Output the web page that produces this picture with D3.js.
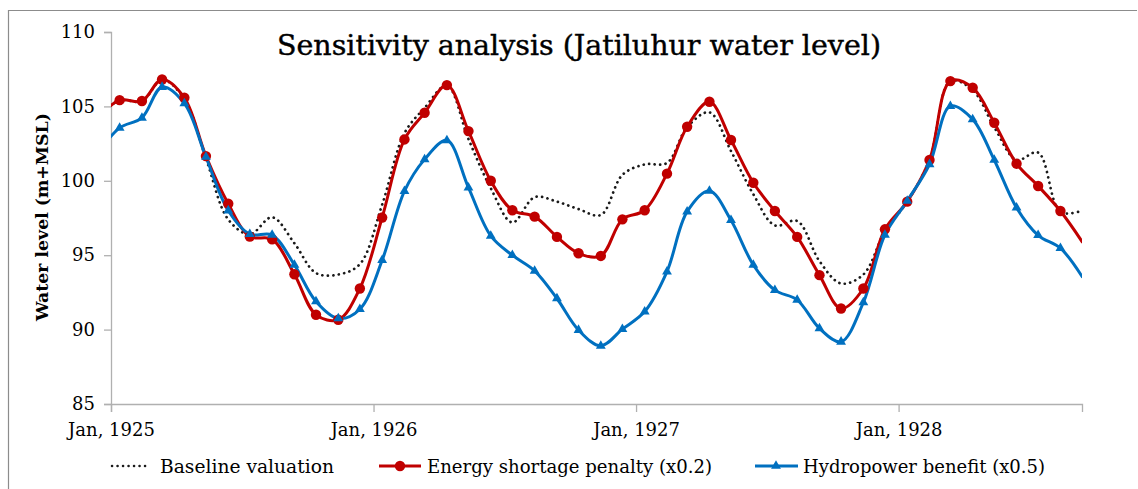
<!DOCTYPE html>
<html>
<head>
<meta charset="utf-8">
<script src="https://cdn.jsdelivr.net/npm/d3@7"></script>
<style>
  body { margin: 0; background: #fff; }
  text { font-family: "DejaVu Serif", "Liberation Serif", serif; fill: #000; }
</style>
</head>
<body>
<div id="chart"></div>
<script>
"use strict";

// monthly points, Dec 1924 .. Sep 1928 (first and last are cut by the plot edges)
var firstMonth = "1924-12";

var baseline = [104.3, 105.4, 105.35, 106.8, 105.5, 101.5, 97.4, 96.4, 97.55, 95.8, 93.8, 93.7, 94.4,
  98.4, 103.2, 104.9, 106.4, 102.8, 99.5, 97.2, 98.9, 98.6, 98.1, 97.7, 100.4,
  101.1, 101.2, 103.6, 104.6, 102.0, 99.1, 97.0, 97.3, 94.6, 93.1, 93.7, 96.6,
  98.6, 101.4, 106.7, 106.1, 103.6, 101.4, 101.9, 97.9, 98.0];

var energyPenalty = [104.2, 105.42, 105.36, 106.81, 105.58, 101.66, 98.46, 96.25, 96.07, 93.72, 91.0, 90.66, 92.76,
  97.53, 102.78, 104.57, 106.43, 103.34, 100.0, 98.02, 97.59, 96.23, 95.13, 94.95, 97.41,
  98.02, 100.48, 103.63, 105.31, 102.74, 99.87, 97.97, 96.23, 93.66, 91.42, 92.76, 96.74,
  98.6, 101.4, 106.7, 106.25, 103.9, 101.15, 99.65, 97.97, 95.85];

var hydroBenefit = [101.8, 103.56, 104.23, 106.3, 105.2, 101.6, 98.0, 96.41, 96.36, 94.35, 91.89, 90.75, 91.37,
  94.66, 99.31, 101.44, 102.72, 99.54, 96.3, 95.0, 93.95, 92.09, 89.97, 88.91, 90.03,
  91.21, 93.9, 97.93, 99.32, 97.35, 94.35, 92.65, 92.0, 90.08, 89.18, 91.82, 96.36,
  98.65, 101.11, 105.02, 104.13, 101.4, 98.19, 96.34, 95.47, 93.5];

var yTicks = [85, 90, 95, 100, 105, 110];
var xTickYears = [1925, 1926, 1927, 1928];
var legendLabels = ["Baseline valuation", "Energy shortage penalty (x0.2)", "Hydropower benefit (x0.5)"];

var width = 1138, height = 489;
var margin = {left: 111, right: 1082, top: 32, bottom: 404};

var svg = d3.select("#chart").append("svg")
    .attr("width", width)
    .attr("height", height);

// chart frame (only left and top edges are in view)
svg.append("path")
    .attr("d", "M8.5,489 L8.5,10.5 L1137,10.5")
    .attr("fill", "none")
    .attr("stroke", "#8c8c8c")
    .attr("stroke-width", 1.2);

var parseMonth = d3.utcParse("%Y-%m");
var start = parseMonth(firstMonth);
function dateOf(i) {
    // values sit around the 13th of each month
    return d3.utcDay.offset(d3.utcMonth.offset(start, i), 12);
}

var x = d3.scaleUtc()
    .domain([Date.UTC(1925, 0, 1), Date.UTC(1928, 8, 12)])
    .range([margin.left, margin.right]);

var y = d3.scaleLinear()
    .domain([85, 110])
    .range([margin.bottom, margin.top]);

// axes
var yAxis = svg.append("g")
    .attr("transform", "translate(" + margin.left + ",0)")
    .call(d3.axisLeft(y).tickValues(yTicks).tickSize(7).tickPadding(9).tickFormat(d3.format("d")));
yAxis.select(".domain").attr("stroke", "#b0b0b0").attr("stroke-width", 1.3);
yAxis.selectAll(".tick line").attr("stroke", "#b0b0b0").attr("stroke-width", 1.3);
yAxis.selectAll(".tick text")
    .style("font-family", "'DejaVu Serif', serif")
    .style("font-size", "18px")
    .attr("fill", "#000");

var xAxis = svg.append("g")
    .attr("transform", "translate(0," + margin.bottom + ")")
    .call(d3.axisBottom(x)
        .tickValues(xTickYears.map(function(yr) { return new Date(Date.UTC(yr, 0, 1)); }))
        .tickSize(8).tickPadding(11)
        .tickFormat(d3.utcFormat("%b, %Y")));
xAxis.select(".domain").attr("stroke", "#b0b0b0").attr("stroke-width", 1.3);
xAxis.selectAll(".tick line").attr("stroke", "#b0b0b0").attr("stroke-width", 1.3);
xAxis.selectAll(".tick text")
    .style("font-family", "'DejaVu Serif', serif")
    .style("font-size", "18px")
    .attr("fill", "#000");

// plot clip
svg.append("clipPath").attr("id", "plotclip")
    .append("rect")
    .attr("x", margin.left)
    .attr("y", margin.top - 10)
    .attr("width", margin.right - margin.left)
    .attr("height", margin.bottom - margin.top + 10);

var line = d3.line()
    .x(function(d, i) { return x(dateOf(i)); })
    .y(function(d) { return y(d); })
    .curve(d3.curveCatmullRom);

var plot = svg.append("g").attr("clip-path", "url(#plotclip)");

plot.append("path")
    .datum(baseline)
    .attr("d", line)
    .attr("fill", "none")
    .attr("stroke", "#1a1a1a")
    .attr("stroke-width", 2.7)
    .attr("stroke-linecap", "round")
    .attr("stroke-dasharray", "0.1 5.4");

plot.append("path")
    .datum(energyPenalty)
    .attr("d", line)
    .attr("fill", "none")
    .attr("stroke", "#c00000")
    .attr("stroke-width", 3);

plot.append("path")
    .datum(hydroBenefit)
    .attr("d", line)
    .attr("fill", "none")
    .attr("stroke", "#0070c0")
    .attr("stroke-width", 3);

function inView(d, i) {
    var t = dateOf(i);
    return t >= x.domain()[0] && t <= x.domain()[1];
}

var triangle = d3.symbol().type(d3.symbolTriangle).size(42);

svg.append("g").selectAll("circle")
    .data(energyPenalty.map(function(v, i) { return {v: v, i: i}; })
        .filter(function(d) { return inView(d.v, d.i); }))
    .enter().append("circle")
    .attr("cx", function(d) { return x(dateOf(d.i)); })
    .attr("cy", function(d) { return y(d.v); })
    .attr("r", 5.2)
    .attr("fill", "#c00000");

svg.append("g").selectAll("path")
    .data(hydroBenefit.map(function(v, i) { return {v: v, i: i}; })
        .filter(function(d) { return inView(d.v, d.i); }))
    .enter().append("path")
    .attr("d", triangle)
    .attr("transform", function(d) { return "translate(" + x(dateOf(d.i)) + "," + y(d.v) + ")"; })
    .attr("fill", "#0070c0");

// title
svg.append("text")
    .attr("x", 579)
    .attr("y", 55)
    .attr("text-anchor", "middle")
    .attr("textLength", 604)
    .attr("lengthAdjust", "spacingAndGlyphs")
    .style("font-size", "27px")
    .style("stroke", "#000")
    .style("stroke-width", 0.4)
    .text("Sensitivity analysis (Jatiluhur water level)");

// y axis title
svg.append("text")
    .attr("transform", "translate(48,217) rotate(-90)")
    .attr("text-anchor", "middle")
    .attr("textLength", 208)
    .attr("lengthAdjust", "spacingAndGlyphs")
    .style("font-size", "17px")
    .style("font-weight", "bold")
    .text("Water level (m+MSL)");

// legend
var lg = svg.append("g");
lg.append("line")
    .attr("x1", 112).attr("x2", 150).attr("y1", 466).attr("y2", 466)
    .attr("stroke", "#1a1a1a").attr("stroke-width", 2.5)
    .attr("stroke-linecap", "round").attr("stroke-dasharray", "0.1 5.4");
lg.append("text").attr("x", 160).attr("y", 473)
    .attr("textLength", 174).attr("lengthAdjust", "spacingAndGlyphs")
    .style("font-size", "18px").text(legendLabels[0]);

lg.append("line")
    .attr("x1", 379).attr("x2", 421).attr("y1", 466).attr("y2", 466)
    .attr("stroke", "#c00000").attr("stroke-width", 3);
lg.append("circle").attr("cx", 400).attr("cy", 466).attr("r", 5.2).attr("fill", "#c00000");
lg.append("text").attr("x", 427).attr("y", 473)
    .attr("textLength", 285).attr("lengthAdjust", "spacingAndGlyphs")
    .style("font-size", "18px").text(legendLabels[1]);

lg.append("line")
    .attr("x1", 755).attr("x2", 798).attr("y1", 466).attr("y2", 466)
    .attr("stroke", "#0070c0").attr("stroke-width", 3);
lg.append("path").attr("d", triangle).attr("transform", "translate(776,466)").attr("fill", "#0070c0");
lg.append("text").attr("x", 803).attr("y", 473)
    .attr("textLength", 242).attr("lengthAdjust", "spacingAndGlyphs")
    .style("font-size", "18px").text(legendLabels[2]);
</script>
</body>
</html>
